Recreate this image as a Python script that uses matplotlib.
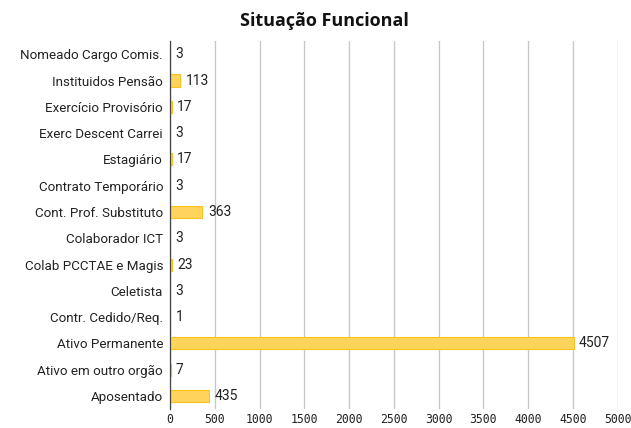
import matplotlib.pyplot as plt

categorias = ["Nomeado Cargo Comis.", "Instituidos Pensão", "Exercício Provisório",
              "Exerc Descent Carrei", "Estagiário", "Contrato Temporário",
              "Cont. Prof. Substituto", "Colaborador ICT", "Colab PCCTAE e Magis",
              "Celetista", "Contr. Cedido/Req.", "Ativo Permanente",
              "Ativo em outro orgão", "Aposentado"]
valores = [3, 113, 17, 3, 17, 3, 363, 3, 23, 3, 1, 4507, 7, 435]
ticks_x = list(range(0, 5001, 500))

fig = plt.figure(figsize=(6.31, 4.28), dpi=100)
ax = fig.add_axes([0.2694, 0.044, 0.7096, 0.86])

y = list(range(len(categorias)))
ax.barh(y, valores, height=0.46, color="#FFD45C", edgecolor="#FFC21A", linewidth=0.8, zorder=3)
for yi, v in zip(y, valores):
    ax.text(v + 60, yi, str(v), va="center", ha="left", fontsize=10,
            family="Roboto", color="#222222")

ax.set_ylim(len(categorias) - 0.5, -0.5)
ax.set_xlim(0, 5000)
ax.set_yticks(y)
ax.set_yticklabels(categorias, fontsize=9.6, family="Roboto", color="#222222")
ax.set_xticks(ticks_x)
ax.set_xticklabels([str(t) for t in ticks_x], fontsize=8.3, family="DejaVu Sans Mono", color="#222222")
ax.tick_params(axis="x", length=0, pad=3)
ax.tick_params(axis="y", length=0, pad=5)
ax.grid(axis="x", color="#c8c8c8", linewidth=1, zorder=0)
for s in ["top", "right", "bottom"]:
    ax.spines[s].set_visible(False)
ax.spines["left"].set_color("#444444")
ax.spines["left"].set_linewidth(0.9)
ax.spines["left"].set_zorder(4)

fig.text(0.514, 0.952, "Situação Funcional", ha="center", va="center",
         fontsize=13, fontweight="bold", family="Open Sans", color="#111111")

fig.savefig("out.png", dpi=100)
